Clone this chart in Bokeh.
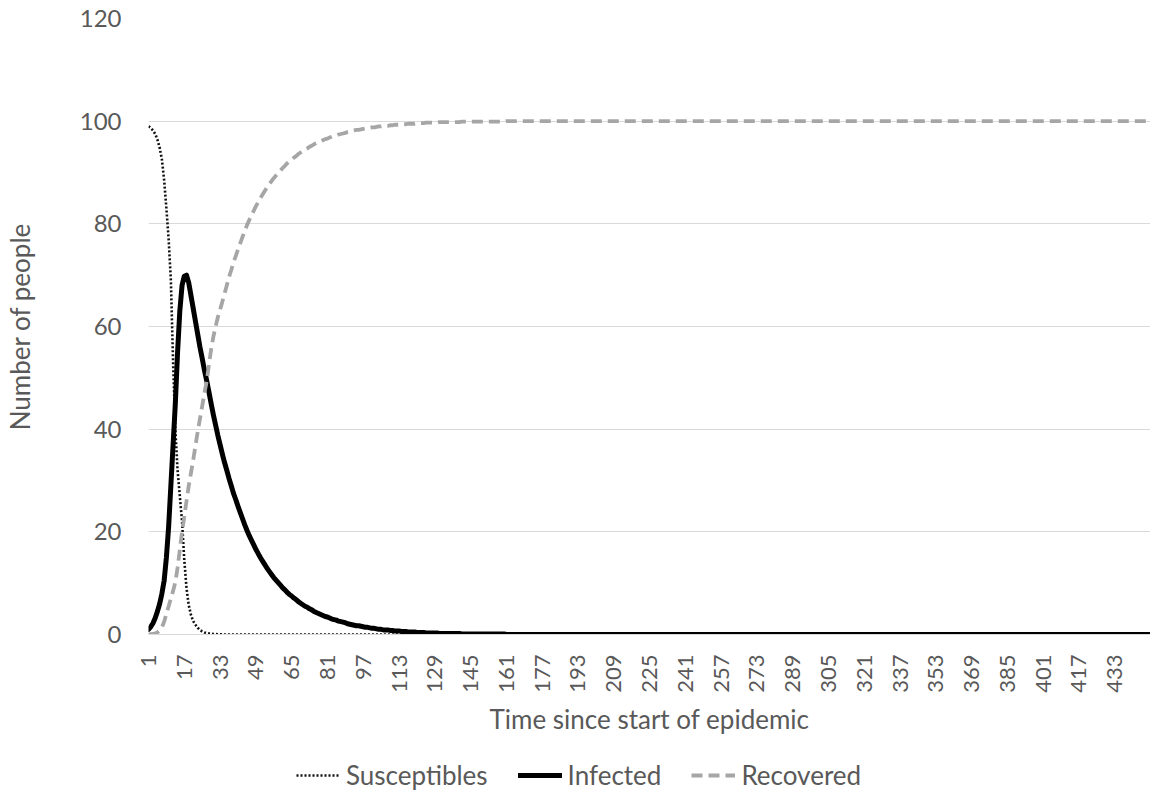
from bokeh.plotting import figure
from bokeh.layouts import column
from bokeh.models import ColumnDataSource, FixedTicker, Legend, LegendItem, Range1d
from bokeh.embed import file_html
from bokeh.resources import INLINE
import math

# ---------------- data ----------------
N_DAYS = 449
days = list(range(1, N_DAYS + 1))

susceptibles_head = [
    99.0, 98.7, 98.2, 97.5, 96.4, 94.8, 92.5, 88.5, 83.0, 77.0,
    69.0, 53.0, 40.0, 32.0, 27.0, 22.0, 14.5, 9.0, 5.7, 3.8,
    2.6, 1.9, 1.3, 0.9, 0.6, 0.4, 0.3, 0.2, 0.15, 0.1,
    0.07, 0.05, 0.03, 0.02, 0.01,
]

infected_head = [
    1.0, 1.5, 2.2, 3.2, 4.5, 6.0, 8.0, 10.5, 15.0, 21.0,
    29.0, 37.0, 45.0, 55.0, 63.0, 68.0, 69.8, 70.0, 68.5, 66.0,
    63.5, 61.0, 58.5, 56.0, 53.8, 51.5, 49.5, 47.3, 45.0, 42.8,
    40.8, 38.8, 37.0, 35.2, 33.5, 32.0, 30.4, 29.0, 27.5, 26.3,
    25.0, 23.8, 22.6, 21.4, 20.3, 19.3, 18.4, 17.5, 16.6, 15.8,
    15.0, 14.3, 13.6, 12.9, 12.3, 11.7, 11.1, 10.6, 10.1, 9.6,
    9.1, 8.7, 8.2, 7.8, 7.5, 7.1, 6.8, 6.4, 6.1, 5.8,
    5.5, 5.3, 5.0, 4.8, 4.5, 4.3, 4.1, 3.9, 3.7, 3.5,
    3.4, 3.2, 3.0, 2.9, 2.8, 2.6, 2.5, 2.4, 2.3, 2.1,
    2.0, 1.9, 1.8, 1.7, 1.7, 1.6, 1.5, 1.4, 1.4, 1.3,
    1.2, 1.2, 1.1, 1.0, 1.0, 0.9, 0.9, 0.9, 0.8, 0.8,
    0.7, 0.7, 0.7, 0.6, 0.6, 0.6, 0.5, 0.5, 0.5, 0.5,
    0.4, 0.4, 0.4, 0.4, 0.3, 0.3, 0.3, 0.3, 0.3, 0.3,
    0.2, 0.2, 0.2, 0.2, 0.2, 0.2, 0.2, 0.2, 0.2, 0.2,
    0.1, 0.1, 0.1, 0.1, 0.1, 0.1, 0.1, 0.1, 0.1, 0.1,
    0.1, 0.1, 0.1, 0.1, 0.1, 0.1, 0.1, 0.1, 0.1, 0.1,
]

recovered_head = [
    0.0, 0.05, 0.1, 0.2, 0.4, 0.8, 1.4, 2.5, 4.0, 5.5,
    7.0, 8.5, 10.2, 13.0, 16.5, 20.0, 23.0, 26.0, 29.0, 31.5,
    34.0, 36.8, 39.5, 42.0, 44.5, 47.0, 49.3, 52.5, 55.5, 58.0,
    60.0, 61.8, 63.3, 64.8, 66.4, 68.0, 69.6, 71.0, 72.5, 73.7,
    75.0, 76.2, 77.4, 78.6, 79.7, 80.7, 81.6, 82.5, 83.4, 84.2,
    85.0, 85.7, 86.4, 87.1, 87.7, 88.3, 88.9, 89.4, 89.9, 90.4,
    90.9, 91.3, 91.8, 92.2, 92.5, 92.9, 93.2, 93.6, 93.9, 94.2,
    94.5, 94.7, 95.0, 95.2, 95.5, 95.7, 95.9, 96.1, 96.3, 96.5,
    96.6, 96.8, 97.0, 97.1, 97.2, 97.4, 97.5, 97.6, 97.7, 97.9,
    98.0, 98.1, 98.2, 98.3, 98.3, 98.4, 98.5, 98.6, 98.6, 98.7,
    98.8, 98.8, 98.9, 99.0, 99.0, 99.1, 99.1, 99.1, 99.2, 99.2,
    99.3, 99.3, 99.3, 99.4, 99.4, 99.4, 99.5, 99.5, 99.5, 99.5,
    99.6, 99.6, 99.6, 99.6, 99.7, 99.7, 99.7, 99.7, 99.7, 99.7,
    99.8, 99.8, 99.8, 99.8, 99.8, 99.8, 99.8, 99.8, 99.8, 99.8,
    99.9, 99.9, 99.9, 99.9, 99.9, 99.9, 99.9, 99.9, 99.9, 99.9,
    99.9, 99.9, 99.9, 99.9, 99.9, 99.9, 99.9, 99.9, 99.9, 99.9,
]

# after the epidemic the curves stay flat at the values
susceptibles = susceptibles_head + [0.0] * (N_DAYS - len(susceptibles_head))
infected = infected_head + [0.0] * (N_DAYS - len(infected_head))
recovered = recovered_head + [100.0] * (N_DAYS - len(recovered_head))

x_tick_labels = list(range(1, 434, 16))
y_tick_labels = [0, 20, 40, 60, 80, 100, 120]

series_names = ["Susceptibles", "Infected", "Recovered"]
series_columns = ["s", "i", "r"]

# ---------------- styling ----------------
FONT = "Lato"
TEXT_COLOR = "#595959"
GRID_COLOR = "#d9d9d9"
STYLES = [
    dict(line_color="#111111", line_width=2.6, line_dash="2 2"),
    dict(line_color="black", line_width=5, line_join="round", line_cap="round"),
    dict(line_color="#a6a6a6", line_width=3.8, line_dash="11 6"),
]

source = ColumnDataSource(dict(day=days, s=susceptibles, i=infected, r=recovered))

p = figure(
    width=1150, height=742,
    output_backend="svg", toolbar_location=None,
    x_range=Range1d(1, N_DAYS), y_range=Range1d(0, 120),
    min_border_left=145, min_border_right=0,
    min_border_top=18, min_border_bottom=108,
)
p.outline_line_color = None
p.background_fill_color = "white"
p.border_fill_color = "white"

for col, st in zip(series_columns, STYLES):
    p.line("day", col, source=source, **st)

# x axis
p.xaxis.ticker = FixedTicker(ticks=x_tick_labels)
p.xaxis.major_label_orientation = math.pi / 2
p.xaxis.axis_line_color = GRID_COLOR
p.xaxis.axis_line_width = 1
p.xaxis.major_tick_line_color = None
p.xaxis.major_tick_out = 0
p.xaxis.minor_tick_line_color = None
p.xaxis.major_label_standoff = 20
p.xaxis.major_label_text_font = FONT
p.xaxis.major_label_text_font_size = "22px"
p.xaxis.major_label_text_color = TEXT_COLOR
p.xaxis.axis_label = "Time since start of epidemic"
p.xaxis.axis_label_text_font = FONT
p.xaxis.axis_label_text_font_size = "26px"
p.xaxis.axis_label_text_font_style = "normal"
p.xaxis.axis_label_text_color = TEXT_COLOR
p.xaxis.axis_label_standoff = 7

# y axis
p.yaxis.ticker = FixedTicker(ticks=y_tick_labels)
p.yaxis.axis_line_color = None
p.yaxis.major_tick_line_color = None
p.yaxis.major_tick_out = 0
p.yaxis.minor_tick_line_color = None
p.yaxis.major_label_standoff = 27
p.yaxis.major_label_text_font = FONT
p.yaxis.major_label_text_font_size = "24px"
p.yaxis.major_label_text_color = TEXT_COLOR
p.yaxis.axis_label = "Number of people"
p.yaxis.axis_label_text_font = FONT
p.yaxis.axis_label_text_font_size = "26px"
p.yaxis.axis_label_text_font_style = "normal"
p.yaxis.axis_label_text_color = TEXT_COLOR
p.yaxis.axis_label_standoff = 41

# grid
p.xgrid.grid_line_color = None
p.ygrid.ticker = FixedTicker(ticks=y_tick_labels)
p.ygrid.grid_line_color = GRID_COLOR
p.ygrid.grid_line_width = 1

# ---------------- legend strip under the chart ----------------
# The strip shows the same series, but its x range lies outside the data,
# so only the legend (samples + labels) is visible.
leg_fig = figure(
    width=1150, height=50,
    output_backend="svg", toolbar_location=None,
    x_range=Range1d(-2, -1), y_range=Range1d(0, 120),
    x_axis_type=None, y_axis_type=None,
    min_border=0,
)
leg_fig.outline_line_color = None
leg_fig.xgrid.grid_line_color = None
leg_fig.ygrid.grid_line_color = None
leg_fig.background_fill_color = "white"
leg_fig.border_fill_color = "white"

leg_renderers = [leg_fig.line("day", col, source=source, **st)
                 for col, st in zip(series_columns, STYLES)]

legend = Legend(
    items=[LegendItem(label=name, renderers=[r])
           for name, r in zip(series_names, leg_renderers)],
    orientation="horizontal",
    location=(148, 1),
)
legend.label_text_font = FONT
legend.label_text_font_size = "26px"
legend.label_text_color = TEXT_COLOR
legend.glyph_width = 44
legend.glyph_height = 20
legend.label_standoff = 6
legend.spacing = 30
legend.padding = 0
legend.margin = 0
legend.border_line_color = None
legend.background_fill_alpha = 0
leg_fig.add_layout(legend, "center")

layout = column(p, leg_fig, spacing=0)
open("out.html", "w").write(file_html(layout, INLINE))
